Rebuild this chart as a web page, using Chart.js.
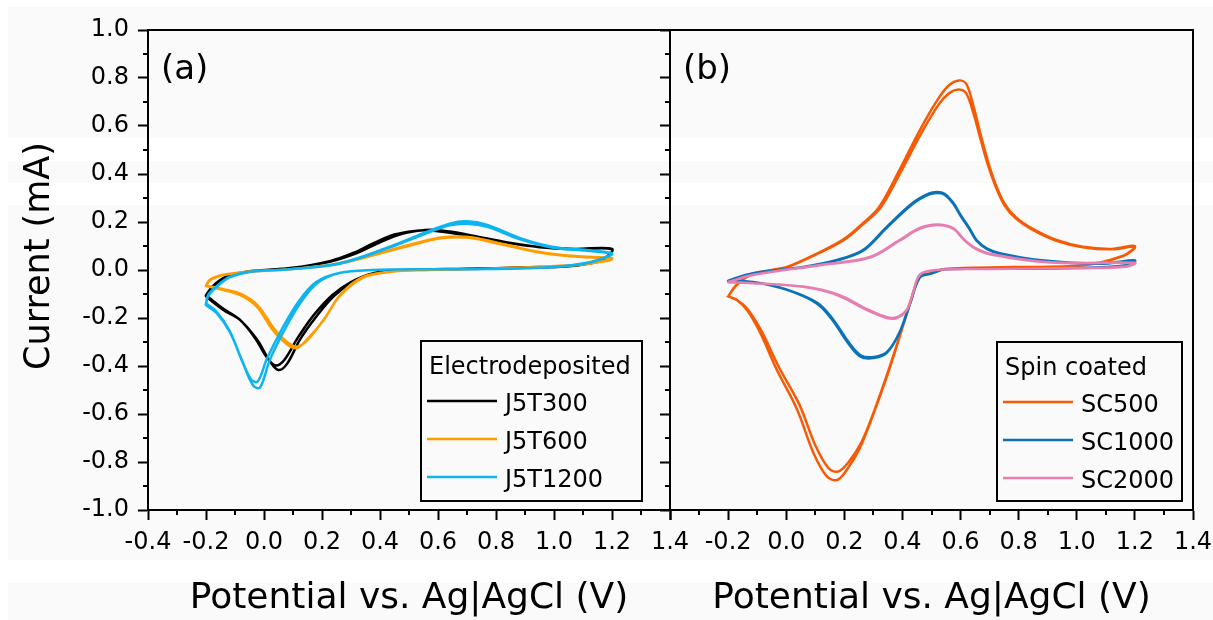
<!DOCTYPE html>
<html><head><meta charset="utf-8">
<script src="https://cdn.jsdelivr.net/npm/chart.js@4.4.0/dist/chart.umd.min.js"></script>
<style>
html,body{margin:0;padding:0;width:1213px;height:620px;overflow:hidden;background:#fff;}
#bg{position:absolute;left:8px;top:0;width:1205px;height:620px;background:linear-gradient(to bottom,#fff 0 7px,#fafafa 7px 138px,#fff 138px 161px,#fafafa 161px 183px,#fff 183px 205px,#fafafa 205px 560px,#fff 560px 583px,#fafafa 583px 620px);}
#ca{position:absolute;left:0;top:0;}
#cb{position:absolute;left:600px;top:0;}
</style></head><body>
<div id="bg"></div>
<canvas id="ca" width="700" height="620"></canvas>
<canvas id="cb" width="613" height="620"></canvas>
<script>
// ---------- data (potential V, current mA), two cycles per sample ----------
const J5T300_c1 = [[-0.2,-0.11],[-0.175,-0.07],[-0.13,-0.03],[-0.06,-0.008],[0.09,0.008],[0.23,0.035],[0.32,0.07],[0.39,0.11],[0.46,0.145],[0.53,0.163],[0.58,0.168],[0.64,0.16],[0.72,0.143],[0.84,0.115],[0.95,0.096],[1.07,0.088],[1.2,0.088],[1.17,0.045],[1.08,0.02],[0.95,0.012],[0.7,0.005],[0.49,0.0],[0.38,-0.013],[0.3,-0.055],[0.24,-0.11],[0.18,-0.195],[0.124,-0.29],[0.08,-0.39],[0.05,-0.417],[0.02,-0.38],[-0.024,-0.29],[-0.083,-0.208],[-0.14,-0.167],[-0.2,-0.11]];
const J5T300_c2 = [[-0.2,-0.105],[-0.175,-0.065],[-0.13,-0.028],[-0.06,-0.007],[0.09,0.008],[0.23,0.038],[0.31,0.072],[0.38,0.113],[0.45,0.148],[0.52,0.163],[0.57,0.165],[0.63,0.157],[0.72,0.14],[0.84,0.113],[0.95,0.095],[1.07,0.087],[1.2,0.086],[1.17,0.043],[1.08,0.019],[0.95,0.011],[0.7,0.005],[0.49,0.0],[0.38,-0.012],[0.3,-0.05],[0.235,-0.105],[0.17,-0.19],[0.115,-0.285],[0.07,-0.375],[0.04,-0.398],[0.01,-0.365],[-0.03,-0.285],[-0.085,-0.205],[-0.14,-0.162],[-0.2,-0.105]];
const J5T600_c1 = [[-0.2,-0.067],[-0.186,-0.042],[-0.14,-0.021],[-0.06,-0.008],[0.09,0.003],[0.26,0.028],[0.434,0.083],[0.55,0.12],[0.61,0.135],[0.665,0.14],[0.72,0.135],[0.84,0.104],[0.95,0.075],[1.07,0.058],[1.2,0.05],[1.19,0.042],[1.07,0.021],[0.72,0.004],[0.57,0.0],[0.434,-0.008],[0.34,-0.033],[0.26,-0.11],[0.205,-0.21],[0.148,-0.29],[0.114,-0.325],[0.08,-0.31],[0.03,-0.25],[-0.024,-0.154],[-0.083,-0.104],[-0.14,-0.083],[-0.2,-0.067]];
const J5T600_c2 = [[-0.2,-0.065],[-0.186,-0.04],[-0.14,-0.02],[-0.06,-0.007],[0.09,0.003],[0.26,0.026],[0.434,0.08],[0.55,0.117],[0.61,0.132],[0.665,0.136],[0.72,0.132],[0.84,0.101],[0.95,0.073],[1.07,0.056],[1.2,0.048],[1.19,0.04],[1.07,0.02],[0.72,0.004],[0.57,0.0],[0.434,-0.007],[0.34,-0.03],[0.265,-0.1],[0.21,-0.2],[0.155,-0.285],[0.12,-0.318],[0.085,-0.305],[0.035,-0.245],[-0.02,-0.15],[-0.08,-0.1],[-0.14,-0.08],[-0.2,-0.065]];
const J5T1200_c1 = [[-0.2,-0.146],[-0.193,-0.11],[-0.163,-0.07],[-0.117,-0.03],[-0.05,-0.008],[0.09,0.003],[0.26,0.028],[0.434,0.097],[0.55,0.153],[0.64,0.193],[0.7,0.203],[0.77,0.188],[0.883,0.133],[0.997,0.096],[1.114,0.083],[1.2,0.07],[1.19,0.06],[1.114,0.03],[1.0,0.013],[0.77,0.004],[0.57,0.003],[0.376,0.0],[0.26,-0.013],[0.183,-0.055],[0.124,-0.14],[0.066,-0.26],[0.02,-0.375],[-0.014,-0.49],[-0.038,-0.48],[-0.072,-0.39],[-0.117,-0.26],[-0.163,-0.18],[-0.2,-0.146]];
const J5T1200_c2 = [[-0.2,-0.14],[-0.193,-0.105],[-0.163,-0.067],[-0.117,-0.028],[-0.05,-0.007],[0.09,0.003],[0.26,0.026],[0.43,0.092],[0.55,0.148],[0.64,0.186],[0.7,0.193],[0.77,0.18],[0.883,0.128],[0.997,0.093],[1.114,0.08],[1.2,0.068],[1.19,0.058],[1.114,0.029],[1.0,0.012],[0.77,0.004],[0.57,0.003],[0.376,0.0],[0.26,-0.012],[0.18,-0.05],[0.12,-0.13],[0.06,-0.25],[0.01,-0.37],[-0.022,-0.465],[-0.045,-0.455],[-0.078,-0.37],[-0.12,-0.25],[-0.165,-0.172],[-0.2,-0.14]];

const SC500_c1 = [[-0.2,-0.11],[-0.17,-0.06],[-0.125,-0.02],[-0.05,0.0],[0.003,0.013],[0.116,0.075],[0.2,0.13],[0.264,0.195],[0.32,0.263],[0.39,0.417],[0.46,0.583],[0.52,0.708],[0.56,0.77],[0.595,0.79],[0.62,0.775],[0.645,0.68],[0.67,0.56],[0.695,0.45],[0.72,0.36],[0.75,0.28],[0.79,0.22],[0.85,0.17],[0.93,0.125],[1.02,0.097],[1.12,0.088],[1.2,0.1],[1.16,0.06],[1.02,0.02],[0.78,0.012],[0.546,0.004],[0.5,-0.013],[0.46,-0.03],[0.426,-0.14],[0.39,-0.28],[0.346,-0.445],[0.3,-0.6],[0.254,-0.74],[0.21,-0.83],[0.175,-0.875],[0.14,-0.86],[0.093,-0.76],[0.037,-0.58],[-0.032,-0.417],[-0.09,-0.26],[-0.135,-0.167],[-0.17,-0.125],[-0.2,-0.11]];
const SC500_c2 = [[-0.2,-0.11],[-0.17,-0.062],[-0.125,-0.022],[-0.05,-0.002],[0.003,0.011],[0.116,0.072],[0.2,0.126],[0.264,0.19],[0.325,0.26],[0.395,0.41],[0.465,0.57],[0.525,0.69],[0.562,0.738],[0.595,0.752],[0.62,0.735],[0.645,0.65],[0.67,0.54],[0.695,0.435],[0.72,0.35],[0.75,0.272],[0.79,0.215],[0.85,0.166],[0.93,0.122],[1.02,0.095],[1.12,0.086],[1.2,0.097],[1.16,0.058],[1.02,0.019],[0.78,0.011],[0.546,0.004],[0.5,-0.012],[0.46,-0.028],[0.428,-0.13],[0.393,-0.265],[0.35,-0.425],[0.305,-0.58],[0.26,-0.715],[0.215,-0.8],[0.178,-0.84],[0.145,-0.825],[0.1,-0.73],[0.045,-0.56],[-0.025,-0.405],[-0.085,-0.255],[-0.132,-0.165],[-0.17,-0.124],[-0.2,-0.11]];
const SC1000_c1 = [[-0.2,-0.045],[-0.19,-0.04],[-0.114,-0.013],[0.058,0.013],[0.175,0.042],[0.264,0.083],[0.346,0.18],[0.436,0.28],[0.49,0.318],[0.518,0.325],[0.545,0.318],[0.575,0.28],[0.6,0.23],[0.63,0.175],[0.655,0.125],[0.69,0.09],[0.735,0.07],[0.87,0.042],[1.08,0.027],[1.2,0.04],[1.17,0.02],[1.0,0.008],[0.7,0.005],[0.546,0.003],[0.5,-0.015],[0.46,-0.03],[0.426,-0.14],[0.39,-0.26],[0.346,-0.345],[0.3,-0.367],[0.254,-0.36],[0.21,-0.3],[0.16,-0.21],[0.106,-0.14],[0.003,-0.083],[-0.114,-0.05],[-0.2,-0.045]];
const SC1000_c2 = [[-0.2,-0.046],[-0.19,-0.041],[-0.114,-0.014],[0.058,0.012],[0.175,0.04],[0.264,0.08],[0.346,0.176],[0.436,0.276],[0.49,0.314],[0.518,0.321],[0.545,0.314],[0.575,0.276],[0.6,0.226],[0.63,0.172],[0.655,0.122],[0.69,0.088],[0.735,0.068],[0.87,0.041],[1.08,0.026],[1.2,0.039],[1.17,0.019],[1.0,0.008],[0.7,0.005],[0.546,0.003],[0.5,-0.014],[0.46,-0.03],[0.428,-0.135],[0.392,-0.255],[0.348,-0.34],[0.302,-0.362],[0.256,-0.355],[0.212,-0.296],[0.162,-0.207],[0.108,-0.138],[0.003,-0.082],[-0.114,-0.05],[-0.2,-0.046]];
const SC2000_c1 = [[-0.2,-0.05],[-0.114,-0.02],[0.116,0.021],[0.288,0.054],[0.39,0.125],[0.46,0.175],[0.518,0.19],[0.574,0.175],[0.61,0.13],[0.645,0.095],[0.7,0.068],[0.91,0.032],[1.2,0.03],[1.17,0.015],[1.0,0.008],[0.7,0.004],[0.52,0.0],[0.46,-0.02],[0.436,-0.097],[0.415,-0.167],[0.38,-0.2],[0.346,-0.2],[0.278,-0.167],[0.175,-0.104],[0.058,-0.07],[-0.114,-0.055],[-0.2,-0.05]];
const SC2000_c2 = [[-0.2,-0.051],[-0.114,-0.021],[0.116,0.02],[0.288,0.052],[0.39,0.122],[0.46,0.172],[0.518,0.187],[0.574,0.172],[0.61,0.128],[0.645,0.093],[0.7,0.066],[0.91,0.031],[1.2,0.029],[1.17,0.014],[1.0,0.008],[0.7,0.004],[0.52,0.0],[0.46,-0.019],[0.437,-0.094],[0.416,-0.163],[0.382,-0.196],[0.348,-0.197],[0.28,-0.164],[0.177,-0.102],[0.058,-0.069],[-0.114,-0.055],[-0.2,-0.051]];

const xTicksMin = -0.4, xTicksMax = 1.4, xStep = 0.2;
const yTicksMin = -1.0, yTicksMax = 1.0, yStep = 0.2;
const seriesA = [
  {label:'J5T300', cycles:[J5T300_c1, J5T300_c2], color:'#000000'},
  {label:'J5T600', cycles:[J5T600_c1, J5T600_c2], color:'#ff9c00'},
  {label:'J5T1200', cycles:[J5T1200_c1, J5T1200_c2], color:'#0eb4ee'}
];
const seriesB = [
  {label:'SC500', cycles:[SC500_c1, SC500_c2], color:'#f75a05'},
  {label:'SC1000', cycles:[SC1000_c1, SC1000_c2], color:'#0b72b8'},
  {label:'SC2000', cycles:[SC2000_c1, SC2000_c2], color:'#e67eb0'}
];

const FONT = 'DejaVu Sans';
const fmt = v => (Math.abs(v) < 1e-9 ? 0 : v).toFixed(1);

function toDatasets(series){
  return series.map((s, i) => ({
    label: s.label,
    data: s.cycles.flat().map(p => ({x:p[0], y:p[1]})),
    borderColor: s.color, backgroundColor: s.color,
    borderWidth: 2.5, pointRadius: 0, showLine: true, tension: 0.35, fill: false,
    order: series.length - i
  }));
}

const framePlugin = {
  id: 'frame',
  afterDraw(chart, args, opts){
    const {ctx, chartArea:a, scales:{x, y}} = chart;
    ctx.save();
    ctx.strokeStyle = '#000'; ctx.lineWidth = 2;
    ctx.strokeRect(a.left, a.top, a.right - a.left, a.bottom - a.top);
    ctx.beginPath();
    for (let k = -10; k <= 10; k++) if (k % 2 !== 0) {
      const py = Math.round(y.getPixelForValue(k/10));
      ctx.moveTo(a.left - 5, py); ctx.lineTo(a.left, py);
    }
    for (let k = -4; k <= 14; k++) if (k % 2 !== 0) {
      const px = Math.round(x.getPixelForValue(k/10));
      ctx.moveTo(px, a.bottom); ctx.lineTo(px, a.bottom + 5);
    }
    ctx.stroke();
    ctx.fillStyle = '#000';
    // y-axis title
    if (opts.yTitle) {
      ctx.save();
      ctx.font = '35px "' + FONT + '"';
      ctx.textAlign = 'center'; ctx.textBaseline = 'middle';
      ctx.translate(40, 256); ctx.rotate(-Math.PI/2);
      ctx.fillText(opts.yTitle, 0, 0);
      ctx.restore();
    }
    // panel label
    ctx.font = '34px "' + FONT + '"';
    ctx.textAlign = 'left'; ctx.textBaseline = 'middle';
    ctx.fillText(opts.panel, a.left + 13, 70);
    // legend
    const L = opts.legend;
    ctx.lineWidth = 2;
    ctx.strokeRect(L.x1, L.y1, L.x2 - L.x1, L.y2 - L.y1);
    ctx.font = '24px "' + FONT + '"';
    ctx.textBaseline = 'alphabetic';
    ctx.fillText(L.title, L.x1 + 8, L.y1 + 33);
    chart.data.datasets.forEach((ds, i) => {
      const ly = L.y1 + 60 + i * 38;
      ctx.strokeStyle = ds.borderColor; ctx.lineWidth = 2.5;
      ctx.beginPath(); ctx.moveTo(L.x1 + 6, ly); ctx.lineTo(L.x1 + 76, ly); ctx.stroke();
      ctx.fillStyle = '#000';
      ctx.fillText(ds.label, L.x1 + 84, ly + 10);
    });
    ctx.restore();
  }
};

function makeChart(id, series, isA, offset){
  const gridOpts = {drawOnChartArea:false, drawTicks:true, tickLength:10, tickWidth:2, tickColor:'#000', color:'#000'};
  return new Chart(document.getElementById(id), {
    type: 'scatter',
    data: {datasets: toDatasets(series)},
    plugins: [framePlugin],
    options: {
      responsive: false, animation: false, devicePixelRatio: 1,
      layout: {padding: {left: 0, right: isA ? 30 : 20, top: 30, bottom: 0}},
      plugins: {
        legend: {display:false}, tooltip: {enabled:false},
        frame: {
          panel: isA ? '(a)' : '(b)',
          yTitle: isA ? 'Current (mA)' : '',
          legend: isA ? {x1:421 - offset, y1:341, x2:642 - offset, y2:501, title:'Electrodeposited'}
                      : {x1:997 - offset, y1:342, x2:1182 - offset, y2:501, title:'Spin coated'}
        }
      },
      scales: {
        x: {
          type:'linear', min:xTicksMin, max:xTicksMax,
          ticks: {stepSize:xStep, color:'#000', font:{family:FONT, size:24}, padding:8, maxRotation:0,
                  callback: v => (!isA && Math.abs(v - xTicksMin) < 1e-9) ? '' : fmt(v)},
          grid: gridOpts, border: {display:true, color:'#000', width:2},
          title: {display:true, text:'Potential vs. Ag|AgCl (V)', color:'#000', font:{family:FONT, size:36}, padding:{top:0, bottom:0}},
          afterFit: s => { s.height = 110; s.paddingLeft = 0; s.paddingRight = 0; }
        },
        y: {
          type:'linear', min:yTicksMin, max:yTicksMax,
          ticks: {stepSize:yStep, color:'#000', font:{family:FONT, size:24}, padding:9,
                  callback: v => isA ? fmt(v) : ''},
          grid: gridOpts, border: {display:true, color:'#000', width:2},
          title: {display:false},
          afterFit: s => { s.width = isA ? 148 : 70; s.paddingTop = 0; s.paddingBottom = 0; }
        }
      }
    }
  });
}
makeChart('ca', seriesA, true, 0);
makeChart('cb', seriesB, false, 600);
</script>
</body></html>
